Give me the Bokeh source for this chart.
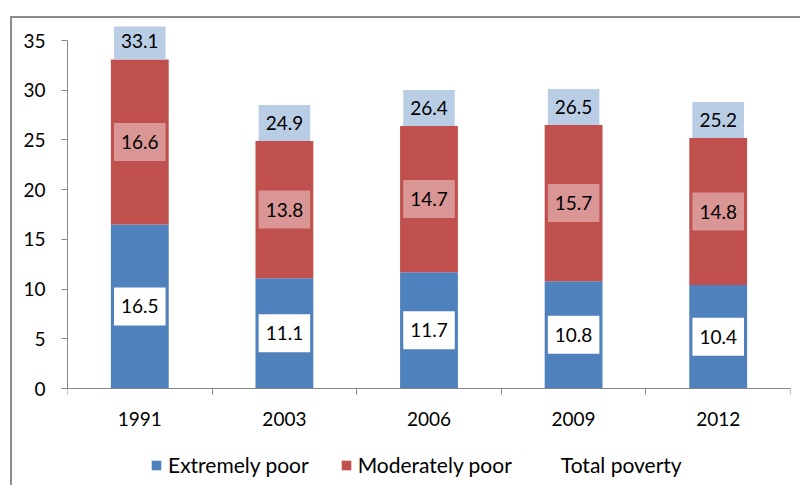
from bokeh.plotting import figure
from bokeh.models import Range1d, FixedTicker, Legend, LegendItem, ColumnDataSource
from bokeh.embed import file_html
from bokeh.resources import INLINE
from bokeh.core.properties import value

years = ["1991", "2003", "2006", "2009", "2012"]
extremely_poor = [16.5, 11.1, 11.7, 10.8, 10.4]
moderately_poor = [16.6, 13.8, 14.7, 15.7, 14.8]
total_poverty = [33.1, 24.9, 26.4, 26.5, 25.2]
y_ticks = [0, 5, 10, 15, 20, 25, 30, 35]

FONT = "Lato"
BLUE = "#4F81BD"
RED = "#C0504D"
GRAY = "#868686"

n = len(years)
x = [i + 0.5 for i in range(n)]
mod_top = [e + m for e, m in zip(extremely_poor, moderately_poor)]

src = ColumnDataSource(dict(
    x=x,
    ext=extremely_poor,
    mod=moderately_poor,
    tot=total_poverty,
    mod_top=mod_top,
    ext_mid=[e / 2 for e in extremely_poor],
    mod_mid=[e + m / 2 for e, m in zip(extremely_poor, moderately_poor)],
    ext_lab=["%.1f" % v for v in extremely_poor],
    mod_lab=["%.1f" % v for v in moderately_poor],
    tot_lab=["%.1f" % v for v in total_poverty],
))

# The frame reaches the bottom of the canvas; the value axis runs from 0 to 35,
# the category axis is pinned at 0 and the legend sits in the space beneath it.
p = figure(width=790, height=469, x_range=Range1d(0, n), y_range=Range1d(-9.957, 36.41),
           output_backend="svg", toolbar_location=None,
           min_border_left=55, min_border_right=12, min_border_top=8, min_border_bottom=0,
           styles={"margin-left": "10px", "margin-top": "16px",
                   "border-left": "2px solid #8c8c8c", "border-top": "2px solid #8c8c8c"})
p.outline_line_color = None
p.xgrid.visible = False
p.ygrid.visible = False
p.background_fill_color = "white"
p.border_fill_color = "white"

r_ext = p.vbar(x="x", bottom=0, top="ext", width=0.4, source=src, fill_color=BLUE, line_color=None)
r_mod = p.vbar(x="x", bottom="ext", top="mod_top", width=0.4, source=src, fill_color=RED, line_color=None)
r_tot = p.vbar(x="x", bottom=0, top="tot", width=0.4, source=src, fill_alpha=0, line_alpha=0)

common = dict(text_font=value(FONT), text_font_size="19px", text_color="black",
              text_align="center", text_baseline="middle")
p.text(x="x", y="ext_mid", text="ext_lab", source=src, anchor="center",
       background_fill_color="white", padding=(7, 12), **common)
p.text(x="x", y="mod_mid", text="mod_lab", source=src, anchor="center",
       background_fill_color="#DA9694", padding=(7, 12), **common)
p.text(x="x", y="tot", text="tot_lab", source=src, anchor="bottom_center",
       background_fill_color="#B9CDE5", padding=(7, 11), **common)

# axes
xa = p.xaxis[0]
xa.fixed_location = 0
xa.ticker = FixedTicker(ticks=x, minor_ticks=list(range(n + 1)))
xa.major_label_overrides = {xi: y for xi, y in zip(x, years)}
xa.major_tick_out = 0
xa.major_tick_in = 0
xa.minor_tick_out = 6
xa.minor_tick_in = 0
xa.minor_tick_line_color = GRAY
xa.axis_line_color = GRAY
xa.major_label_standoff = 17
xa.major_label_text_font = FONT
xa.major_label_text_font_size = "19px"
xa.major_label_text_color = "black"

ya = p.yaxis[0]
ya.ticker = FixedTicker(ticks=y_ticks)
ya.bounds = (y_ticks[0], y_ticks[-1])
ya.major_tick_out = 6
ya.major_tick_in = 0
ya.minor_tick_out = 0
ya.minor_tick_in = 0
ya.axis_line_color = GRAY
ya.major_tick_line_color = GRAY
ya.major_label_standoff = 16
ya.major_label_text_font = FONT
ya.major_label_text_font_size = "19px"
ya.major_label_text_color = "black"

legend = Legend(items=[
    LegendItem(label="Extremely poor", renderers=[r_ext]),
    LegendItem(label="Moderately poor", renderers=[r_mod]),
    LegendItem(label="Total poverty", renderers=[r_tot]),
], orientation="horizontal", location=(83, 10),
    glyph_width=12, glyph_height=12, label_standoff=6, spacing=31,
    padding=0, margin=0, border_line_color=None, background_fill_alpha=0,
    label_text_font=FONT, label_text_font_size="21px", label_text_color="black")
p.add_layout(legend, "center")

open("out.html", "w").write(file_html(p, INLINE))
